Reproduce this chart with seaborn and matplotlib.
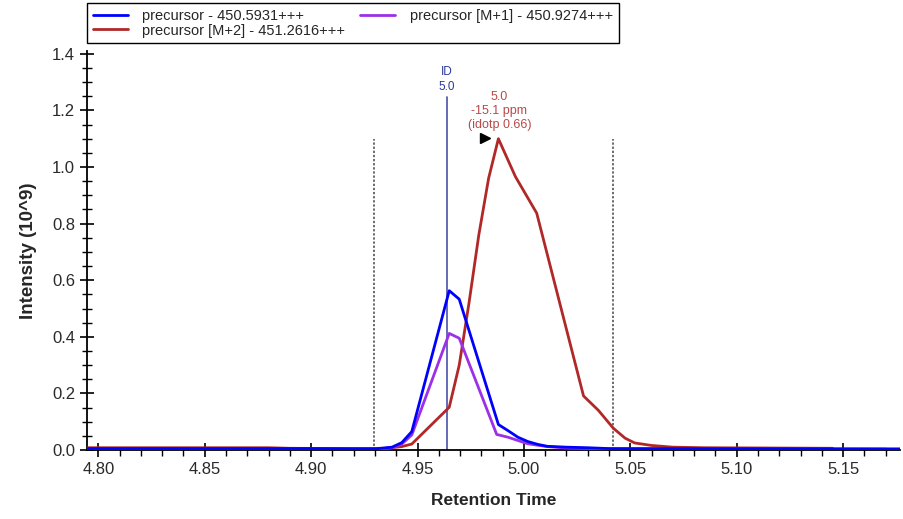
import numpy as np
import pandas as pd
import matplotlib
matplotlib.use('Agg')
import matplotlib.pyplot as plt
from matplotlib.ticker import MultipleLocator
from matplotlib.lines import Line2D
import seaborn as sns

# Chromatogram traces (retention time in min, intensity in 10^9)
names = ['precursor - 450.5931+++',
         'precursor [M+1] - 450.9274+++',
         'precursor [M+2] - 451.2616+++']
colors = ['#0000FF', '#9B30E8', '#B02828']

rt_m0 = [4.795, 4.85, 4.90, 4.93, 4.938, 4.9426, 4.9473, 4.9649, 4.9696, 4.988,
         4.9926, 4.9972, 5.0018, 5.0064, 5.011, 5.02, 5.03, 5.04, 5.177]
int_m0 = [0.005, 0.005, 0.005, 0.004, 0.010, 0.026, 0.065, 0.563, 0.533, 0.090,
          0.068, 0.045, 0.030, 0.020, 0.013, 0.010, 0.008, 0.005, 0.004]

rt_m1 = [4.795, 4.90, 4.93, 4.938, 4.9426, 4.9473, 4.9649, 4.9696, 4.9872,
         4.9926, 5.0018, 5.011, 5.02, 5.04, 5.17]
int_m1 = [0.003, 0.003, 0.003, 0.008, 0.021, 0.053, 0.412, 0.395, 0.055,
          0.045, 0.022, 0.012, 0.007, 0.004, 0.003]

rt_m2 = [4.795, 4.88, 4.89, 4.92, 4.935, 4.9426, 4.9473, 4.9649, 4.9696, 4.9742,
         4.9788, 4.9834, 4.988, 4.996, 5.006, 5.028, 5.035, 5.042, 5.0475, 5.052,
         5.06, 5.07, 5.085, 5.145]
int_m2 = [0.008, 0.008, 0.006, 0.005, 0.006, 0.012, 0.021, 0.151, 0.300, 0.520,
          0.760, 0.960, 1.100, 0.966, 0.837, 0.191, 0.140, 0.077, 0.042, 0.025,
          0.016, 0.010, 0.008, 0.006]

id_rt = 4.9637
peak_rt = 4.988
boundaries = [4.9296, 5.0417]
x_ticks = [4.80, 4.85, 4.90, 4.95, 5.00, 5.05, 5.10, 5.15]
y_ticks = [0.0, 0.2, 0.4, 0.6, 0.8, 1.0, 1.2, 1.4]

df = pd.concat([
    pd.DataFrame({'rt': rt_m0, 'intensity': int_m0, 'trace': names[0]}),
    pd.DataFrame({'rt': rt_m1, 'intensity': int_m1, 'trace': names[1]}),
    pd.DataFrame({'rt': rt_m2, 'intensity': int_m2, 'trace': names[2]}),
])

sns.set_style('white')
plt.rcParams['font.family'] = ['Liberation Sans', 'DejaVu Sans']

fig = plt.figure(figsize=(9.04, 5.19), dpi=100)
ax = fig.add_axes([87 / 904, 1 - 450 / 519, 813 / 904, 399 / 519])

# boundaries of the integrated peak
for b in boundaries:
    ax.plot([b, b], [0, 1.10], color='#444444', linestyle=(0, (1.5, 1.2)), linewidth=1.1, zorder=1)

# ID line
ax.plot([id_rt, id_rt], [0, 1.247], color='#4B4FA8', linewidth=1.2, zorder=1)

sns.lineplot(data=df, x='rt', y='intensity', hue='trace', hue_order=[names[2], names[1], names[0]],
             palette={n: c for n, c in zip(names, colors)}, sort=False, estimator=None,
             linewidth=2.0, ax=ax, legend=False, zorder=3)

ax.text(id_rt, 1.263, 'ID\n5.0', color='#2A3A9A', fontsize=8.5, ha='center', va='bottom', linespacing=1.3)
ax.text(peak_rt + 0.0005, 1.127, '5.0\n-15.1 ppm\n(idotp 0.66)', color='#B84A4A', fontsize=9,
        ha='center', va='bottom', linespacing=1.2)
# peak apex flag
ax.plot([peak_rt - 0.0062], [1.104], marker='>', color='black', markersize=6.5, linestyle='none', zorder=4)

ax.set_xlim(4.7947, 5.1767)
ax.set_ylim(0, 1.41)
ax.set_xticks(x_ticks)
ax.set_xticklabels([f'{t:.2f}' for t in x_ticks])
ax.set_yticks(y_ticks)
ax.set_yticklabels([f'{t:.1f}' for t in y_ticks])
ax.xaxis.set_minor_locator(MultipleLocator(0.01))
ax.yaxis.set_minor_locator(MultipleLocator(0.05))
ax.tick_params(which='major', direction='inout', length=10, width=1.2, color='black',
               labelsize=12, labelcolor='#2a2a2a', left=True, bottom=True)
ax.tick_params(axis='x', which='minor', direction='out', length=4, width=1, color='black', bottom=True)
ax.tick_params(axis='y', which='minor', direction='inout', length=7, width=1, color='black', left=True)
ax.tick_params(axis='x', which='major', pad=4)

for s in ['top', 'right']:
    ax.spines[s].set_visible(False)
for s in ['left', 'bottom']:
    ax.spines[s].set_color('black')
    ax.spines[s].set_linewidth(1.3)

ax.set_xlabel('Retention Time', fontsize=12.5, fontweight='bold', labelpad=11)
ax.set_ylabel('Intensity (10^9)', fontsize=13.5, fontweight='bold', labelpad=11)

handles = [Line2D([], [], color=colors[0], linewidth=2),
           Line2D([], [], color=colors[2], linewidth=2),
           Line2D([], [], color=colors[1], linewidth=2)]
labels = [names[0], names[2], names[1]]
leg = fig.legend(handles, labels, loc='upper left', bbox_to_anchor=(87 / 904, 1 - 3 / 519),
                 ncol=2, fontsize=10.5, frameon=True, fancybox=False, framealpha=1,
                 edgecolor='black', borderpad=0.4, labelspacing=0.05, handlelength=2.4,
                 handletextpad=1.0, columnspacing=1.0, borderaxespad=0)
leg.get_frame().set_linewidth(1.0)

fig.savefig('out.png', dpi=100)
